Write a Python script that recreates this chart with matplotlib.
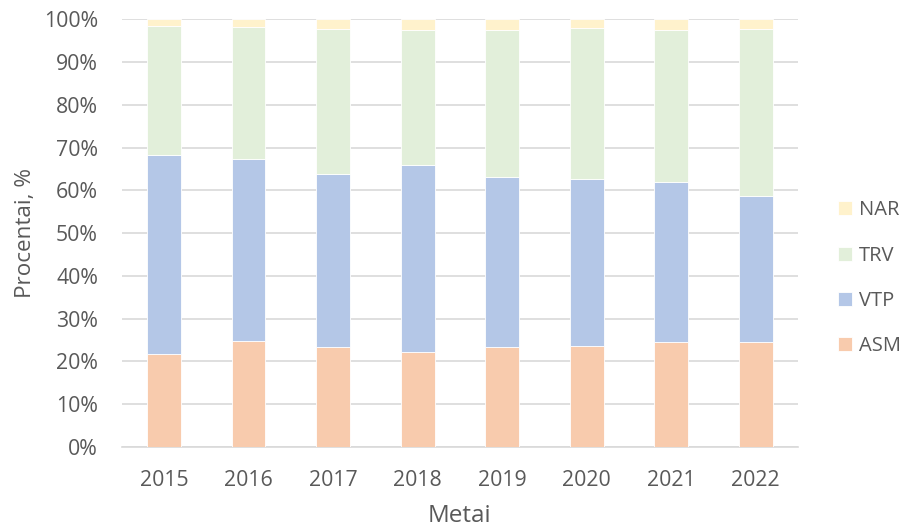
import matplotlib
matplotlib.use("Agg")
import matplotlib.pyplot as plt
from matplotlib.ticker import PercentFormatter

years = ["2015", "2016", "2017", "2018", "2019", "2020", "2021", "2022"]
asm = [21.8, 24.7, 23.4, 22.1, 23.3, 23.5, 24.5, 24.6]
vtp = [46.4, 42.7, 40.4, 43.9, 39.9, 39.1, 37.4, 34.1]
trv = [30.3, 30.9, 34.0, 31.6, 34.3, 35.4, 35.7, 39.1]
nar = [1.5, 1.7, 2.2, 2.4, 2.5, 2.0, 2.4, 2.2]

series = [("ASM", asm, "#F8CBAD"), ("VTP", vtp, "#B4C7E7"),
          ("TRV", trv, "#E2EFDA"), ("NAR", nar, "#FFF2CC")]

plt.rcParams["font.family"] = ["Open Sans", "DejaVu Sans"]
text_color = "#595959"

fig = plt.figure(figsize=(9.1, 5.3), dpi=100)
ax = fig.add_axes([0.1337, 0.157, 0.7433, 0.8066])

x = list(range(len(years)))
bottom = [0.0] * len(years)
handles = {}
for name, vals, color in series:
    bars = ax.bar(x, vals, width=0.4, bottom=bottom, color=color,
                  edgecolor="white", linewidth=0.6, zorder=3, label=name)
    handles[name] = bars
    bottom = [b + v for b, v in zip(bottom, vals)]

ax.set_xlim(-0.5, len(years) - 0.5)
ax.set_ylim(0, 100)
ax.set_yticks(range(0, 101, 10))
ax.yaxis.set_major_formatter(PercentFormatter(decimals=0))
ax.set_xticks(x)
ax.set_xticklabels(years)
ax.grid(axis="y", color="#D9D9D9", linewidth=1.2, zorder=0)
for side in ["top", "right", "left"]:
    ax.spines[side].set_visible(False)
ax.spines["bottom"].set_color("#D9D9D9")
ax.spines["bottom"].set_linewidth(1.2)
ax.tick_params(axis="both", length=0, labelsize=15.3, colors=text_color)
ax.tick_params(axis="y", pad=17)
ax.tick_params(axis="x", pad=17)

ax.set_ylabel("Procentai, %", fontsize=16.2, color=text_color, labelpad=5.5)
ax.set_xlabel("Metai", fontsize=17.5, color=text_color, labelpad=9)

order = ["NAR", "TRV", "VTP", "ASM"]
leg = fig.legend([handles[n] for n in order], order, loc="center left",
                 bbox_to_anchor=(0.912, 0.475), frameon=False, fontsize=14.5,
                 labelspacing=1.25, handlelength=0.7, handleheight=0.7,
                 handletextpad=0.35, borderaxespad=0)
for t in leg.get_texts():
    t.set_color(text_color)

fig.savefig("out.png", dpi=100)
